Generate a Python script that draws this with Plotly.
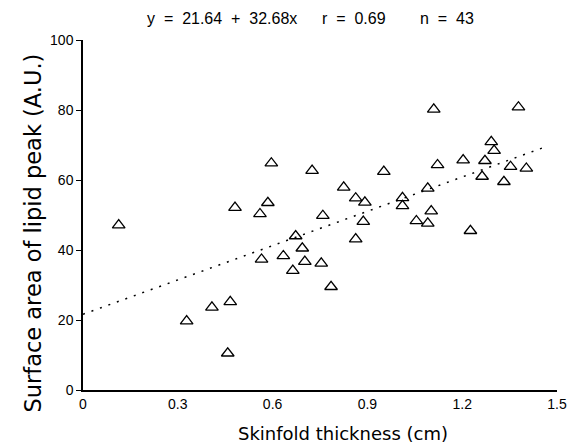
import plotly.graph_objects as go

skinfold = [0.113, 0.328, 0.408, 0.466, 0.458, 0.481, 0.560, 0.585, 0.596, 0.565,
            0.634, 0.664, 0.673, 0.694, 0.702, 0.725, 0.754, 0.759, 0.825, 0.863,
            0.892, 0.887, 0.863, 0.785, 0.952, 1.011, 1.011, 1.091, 1.102, 1.055,
            1.091, 1.110, 1.122, 1.203, 1.226, 1.263, 1.272, 1.292, 1.301, 1.332,
            1.353, 1.378, 1.403]
lipid = [47.1, 19.7, 23.6, 25.2, 10.5, 52.1, 50.3, 53.5, 64.8, 37.3,
         38.3, 34.1, 44.0, 40.5, 36.7, 62.7, 36.2, 49.8, 57.9, 54.8,
         53.6, 48.1, 43.1, 29.5, 62.4, 54.9, 52.6, 57.6, 51.1, 48.3,
         47.6, 80.2, 64.3, 65.7, 45.5, 61.0, 65.5, 70.9, 68.4, 59.5,
         63.8, 80.8, 63.3]
intercept = 21.64
slope = 32.68
fit_x = [0.0, 1.47]
fit_y = [intercept + slope * v for v in fit_x]
x_ticks = [0, 0.3, 0.6, 0.9, 1.2, 1.5]
x_ticklabels = ["0", "0.3", "0.6", "0.9", "1.2", "1.5"]
y_ticks = [0, 20, 40, 60, 80, 100]
title_parts = ["y  =  21.64  +  32.68x", "r  =  0.69", "n  =  43"]

fig = go.Figure()
fig.add_trace(go.Scatter(x=fit_x, y=fit_y, mode="lines",
                         line=dict(color="black", width=1.5, dash="2px,7px"),
                         showlegend=False, hoverinfo="skip"))
fig.add_trace(go.Scatter(x=skinfold, y=lipid, mode="markers",
                         marker=dict(symbol="triangle-up-open", size=11,
                                     color="black", line=dict(width=1.3, color="black")),
                         showlegend=False))

PL, PR = 83, 17
PW = 579 - PL - PR
def px_to_paper(px):
    return (px - PL) / PW

title_ann = []
for txt, left in zip(title_parts, [146, 322, 422]):
    title_ann.append(dict(text=txt, xref="paper", yref="paper", x=px_to_paper(left),
                          y=1.0, yshift=22, xanchor="left", yanchor="middle",
                          showarrow=False, font=dict(size=16)))

fig.update_layout(
    width=579, height=447,
    margin=dict(l=PL, r=PR, t=40, b=57),
    paper_bgcolor="white", plot_bgcolor="white",
    font=dict(family="Liberation Sans, Arial", size=13, color="black"),
    xaxis=dict(range=[0, 1.5], tickvals=x_ticks, ticktext=x_ticklabels,
               showgrid=False, zeroline=False, showline=True, linecolor="black",
               linewidth=1.5, ticks="", tickfont=dict(size=14)),
    yaxis=dict(range=[0, 100], tickvals=y_ticks, showgrid=False, zeroline=False,
               showline=True, linecolor="black", linewidth=1.5, ticks="outside",
               ticklen=5, tickwidth=1.2, tickcolor="black", tickfont=dict(size=14)),
    annotations=title_ann + [
        dict(text="Surface area of lipid peak (A.U.)", xref="paper", yref="paper",
             x=px_to_paper(32), y=(390 - 233) / 350, xanchor="center", yanchor="middle",
             textangle=-90, showarrow=False, font=dict(family="DejaVu Sans", size=22.5)),
        dict(text="Skinfold thickness (cm)", xref="paper", yref="paper",
             x=px_to_paper(346), y=-0.123, xanchor="center", yanchor="middle",
             showarrow=False, font=dict(family="DejaVu Sans", size=18)),
    ],
)
fig.write_html("out.html", config={"displayModeBar": False})

with open("out.html", "r", encoding="utf-8") as f:
    html = f.read()
html = html.replace("<head>", "<head><style>html,body{margin:0;padding:0;}</style>", 1)
with open("out.html", "w", encoding="utf-8") as f:
    f.write(html)
